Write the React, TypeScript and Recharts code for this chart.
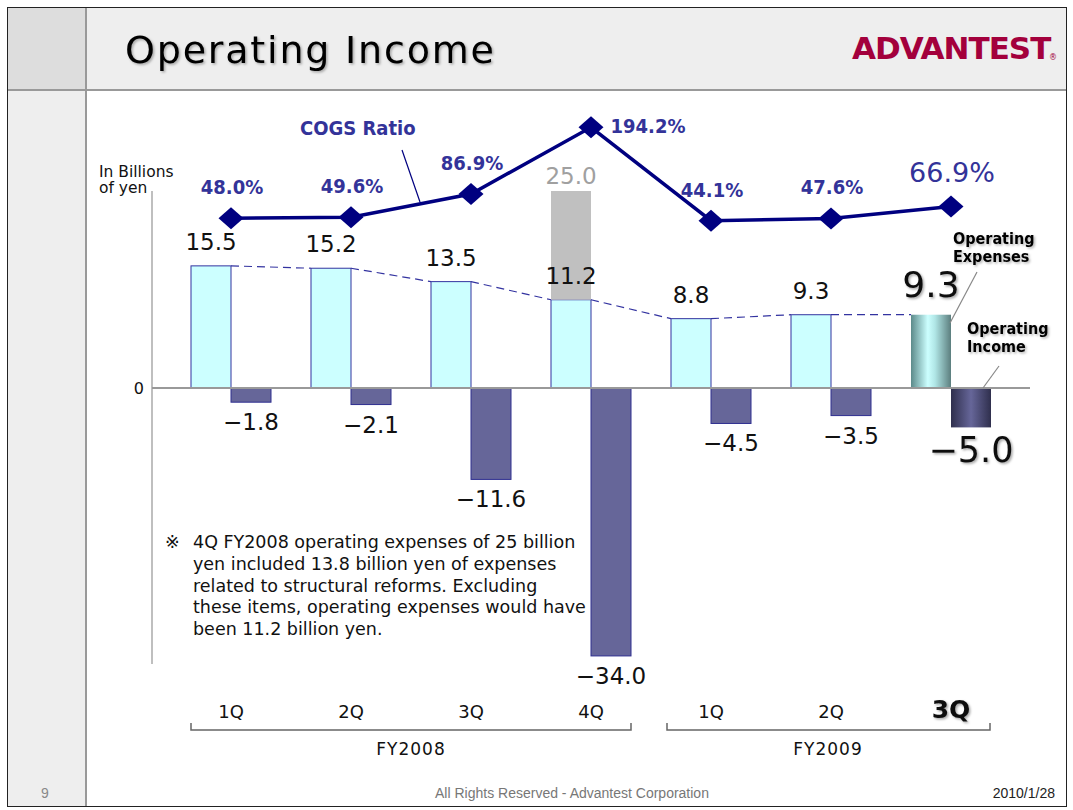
import React from 'react';
import { ComposedChart, Bar, Line, XAxis, YAxis, ReferenceLine } from 'recharts';

// ---------- data ----------
const quarters = ['1Q', '2Q', '3Q', '4Q', '1Q', '2Q', '3Q'];
const fiscalYears = ['FY2008', 'FY2008', 'FY2008', 'FY2008', 'FY2009', 'FY2009', 'FY2009'];
const operatingExpenses = [15.5, 15.2, 13.5, 11.2, 8.8, 9.3, 9.3];
const structuralReformExpenses = [0, 0, 0, 13.8, 0, 0, 0];
const operatingIncome = [-1.8, -2.1, -11.6, -34.0, -4.5, -3.5, -5.0];
const cogsRatio = [48.0, 49.6, 86.9, 194.2, 44.1, 47.6, 66.9];
const yTicks = [0];
const fiscalYearGroups = ['FY2008', 'FY2009'];
const footnoteLines = [
  '4Q FY2008 operating expenses of 25 billion',
  'yen included 13.8 billion yen of expenses',
  'related to structural reforms. Excluding',
  'these items, operating expenses would have',
  'been 11.2 billion yen.',
];

const data = quarters.map((q, i) => ({
  key: `${fiscalYears[i]} ${q}`,
  opex: operatingExpenses[i],
  reform: structuralReformExpenses[i],
  income: operatingIncome[i],
  cogs: cogsRatio[i],
}));

// ---------- style ----------
const LATEST = quarters.length - 1;
const CATEGORY_GAP = 20;
const SANS = "'DejaVu Sans', sans-serif";
const SANS_COND = "'DejaVu Sans Condensed', 'DejaVu Sans', sans-serif";
const ARIAL = "'Liberation Sans', Arial, sans-serif";
const fmt = (v: number) => (v < 0 ? '\u2212' : '') + Math.abs(v).toFixed(1);
const maxCogs = Math.max(...cogsRatio);

function OpexShape(props: any) {
  const { x, y, width, height, index: i } = props;
  const top = Math.min(y, y + height);
  const h = Math.abs(height);
  const hl = i === LATEST;
  let connector = null;
  if (i < operatingExpenses.length - 1 && operatingExpenses[i] !== 0) {
    const zero = top + h;
    const ppu = h / operatingExpenses[i];
    const nextTop = zero - operatingExpenses[i + 1] * ppu;
    const band = 2 * width + 2 * CATEGORY_GAP;
    connector = (
      <line x1={x + width} y1={top} x2={x + band} y2={nextTop}
        stroke="#3333a0" strokeWidth={1.2} strokeDasharray="8 5" />
    );
  }
  return (
    <g>
      <rect x={x} y={top} width={width} height={h}
        fill={hl ? 'url(#opexGrad)' : '#ccffff'}
        stroke={hl ? 'none' : '#3333a0'} strokeWidth={1} />
      {connector}
    </g>
  );
}

function IncomeShape(props: any) {
  const { x, y, width, height, index: i } = props;
  const top = Math.min(y, y + height);
  const bottom = Math.max(y, y + height);
  const h = bottom - top;
  const hl = i === LATEST;
  const zero = top;
  const ppu = h / Math.abs(operatingIncome[i]);
  const opexTop = zero - operatingExpenses[i] * ppu;
  const total = operatingExpenses[i] + structuralReformExpenses[i];
  const totalTop = zero - total * ppu;
  const opexCx = x - width / 2;
  const incCx = x + width / 2;
  return (
    <g>
      <rect x={x} y={top} width={width} height={h}
        fill={hl ? 'url(#incGrad)' : '#666699'}
        stroke={hl ? 'none' : '#2e2e90'} strokeWidth={1} />
      <text x={incCx} y={bottom + (hl ? 35 : 28)} textAnchor="middle"
        fontFamily={SANS} fontSize={hl ? 35 : 23} fill="#111"
        filter={hl ? 'url(#tshadow)' : undefined}>{fmt(operatingIncome[i])}</text>
      <text x={opexCx} y={opexTop - (hl ? 18 : 16)} textAnchor="middle"
        fontFamily={SANS} fontSize={hl ? 36 : 23} fill="#111"
        filter={hl ? 'url(#tshadow)' : undefined}>{fmt(operatingExpenses[i])}</text>
      {structuralReformExpenses[i] > 0 && (
        <text x={opexCx} y={totalTop - 7} textAnchor="middle"
          fontFamily={SANS} fontSize={23} fill="#a0a0a0">{fmt(total)}</text>
      )}
    </g>
  );
}

function CogsDot(props: any) {
  const { cx, cy, index: i } = props;
  const hl = i === LATEST;
  const isMax = cogsRatio[i] === maxCogs;
  return (
    <g key={`cogs-${i}`}>
      <path d={`M${cx} ${cy - 11}L${cx + 12.5} ${cy}L${cx} ${cy + 11}L${cx - 12.5} ${cy}Z`} fill="#000080" />
      <text x={isMax ? cx + 57 : cx + 1} y={isMax ? cy + 6 : cy - 24} textAnchor="middle"
        fontFamily={hl ? SANS : SANS_COND} fontSize={hl ? 27 : 20}
        fontWeight={hl ? 'normal' : 'bold'} fill="#333399">
        {cogsRatio[i].toFixed(1)}%
      </text>
    </g>
  );
}

function QuarterTick(props: any) {
  const { x, y, payload } = props;
  const i = props.index ?? payload?.index ?? 0;
  const hl = i === LATEST;
  return (
    <text x={x} y={y} dy={46} textAnchor="middle" fontFamily={SANS}
      fontSize={hl ? 25 : 18} fontWeight={hl ? 'bold' : 'normal'} fill="#111"
      filter={hl ? 'url(#tshadow)' : undefined}>
      {quarters[i]}
    </text>
  );
}

function Backdrop() {
  return (
    <svg width={1073} height={810} style={{ position: 'absolute', left: 0, top: 0 }}>
      <rect x={0} y={0} width={1073} height={810} fill="#ffffff" />
      <rect x={8} y={8} width={1058} height={82} fill="#eeeeee" />
      <rect x={8} y={8} width={78} height={82} fill="#dddddd" />
      <rect x={8} y={90} width={78} height={716} fill="#eeeeee" />
      <line x1={86} y1={8} x2={86} y2={806} stroke="#999" strokeWidth={2} />
      <line x1={8} y1={90} x2={1066} y2={90} stroke="#999" strokeWidth={2} />
      <rect x={7.5} y={7.5} width={1059} height={799} fill="none" stroke="#222" strokeWidth={1} />
      {/* value axis line (spans the bar range only) */}
      <line x1={152} y1={191} x2={152} y2={664} stroke="#aaa" strokeWidth={1.5} />
    </svg>
  );
}

function Overlay() {
  return (
    <svg width={1073} height={810} style={{ position: 'absolute', left: 0, top: 0, pointerEvents: 'none' }}>
      <defs>
        <filter id="oshadow" x="-5%" y="-20%" width="110%" height="150%">
          <feDropShadow dx="1.5" dy="1.5" stdDeviation="0.8" floodColor="#000" floodOpacity="0.3" />
        </filter>
      </defs>
      <text x={125} y={63} fontFamily={SANS} fontSize={38} letterSpacing={1.8} fill="#000" filter="url(#oshadow)">
        Operating Income
      </text>
      <text x={852} y={59} fontFamily={SANS} fontSize={31} fontWeight="bold" letterSpacing={-1} fill="#a3003c">
        ADVANTEST
      </text>
      <text x={1049} y={60} fontFamily={SANS} fontSize={8} fill="#a3003c">®</text>

      <text x={99} y={177} fontFamily={SANS} fontSize={15.5} fill="#111">In Billions</text>
      <text x={99} y={193} fontFamily={SANS} fontSize={15.5} fill="#111">of yen</text>

      <text x={300} y={135} fontFamily={SANS_COND} fontSize={20} fontWeight="bold" fill="#333399">COGS Ratio</text>
      <line x1={402} y1={150} x2={420} y2={202} stroke="#000080" strokeWidth={1.2} />

      <g fontFamily={SANS_COND} fontSize={16} fontWeight="bold" fill="#000" filter="url(#oshadow)">
        <text x={953} y={244}>Operating</text>
        <text x={953} y={262}>Expenses</text>
        <text x={967} y={334}>Operating</text>
        <text x={967} y={352}>Income</text>
      </g>
      <line x1={977} y1={272} x2={950} y2={323} stroke="#888" strokeWidth={1.2} />
      <line x1={999} y1={366} x2={983} y2={388} stroke="#888" strokeWidth={1.2} />

      <g fontFamily={SANS} fontSize={17.5} fill="#111">
        <text x={165} y={548}>※</text>
        {footnoteLines.map((t, i) => (
          <text key={i} x={193} y={548 + i * 21.8}>{t}</text>
        ))}
      </g>

      <path d="M191 723V730H631V723" fill="none" stroke="#666" strokeWidth={1.5} />
      <path d="M667 723V730H990V723" fill="none" stroke="#666" strokeWidth={1.5} />
      <text x={411} y={755} textAnchor="middle" fontFamily={SANS} fontSize={17} letterSpacing={1} fill="#111">{fiscalYearGroups[0]}</text>
      <text x={828} y={755} textAnchor="middle" fontFamily={SANS} fontSize={17} letterSpacing={1} fill="#111">{fiscalYearGroups[1]}</text>

      <text x={45} y={798} textAnchor="middle" fontFamily={ARIAL} fontSize={14} fill="#888">9</text>
      <text x={572} y={798} textAnchor="middle" fontFamily={ARIAL} fontSize={14} fill="#777">All Rights Reserved - Advantest Corporation</text>
      <text x={1055} y={798} textAnchor="end" fontFamily={ARIAL} fontSize={14} fill="#222">2010/1/28</text>
    </svg>
  );
}

export default function App() {
  return (
    <div style={{ position: 'absolute', left: 0, top: 0, width: 1073, height: 810, overflow: 'hidden' }}>
      <Backdrop />
      <div style={{ position: 'absolute', left: 0, top: 0 }}>
        <ComposedChart width={1073} height={810} data={data}
          margin={{ top: 110, right: 43, bottom: 86.2, left: 122 }}
          barCategoryGap={CATEGORY_GAP} barGap={0}>
          <defs>
            <linearGradient id="opexGrad" x1="0" y1="0" x2="1" y2="0">
              <stop offset="0" stopColor="#5b8a8a" />
              <stop offset="0.42" stopColor="#ccffff" />
              <stop offset="0.6" stopColor="#b0e6e6" />
              <stop offset="1" stopColor="#5c7e7e" />
            </linearGradient>
            <linearGradient id="incGrad" x1="0" y1="0" x2="1" y2="0">
              <stop offset="0" stopColor="#2f2f4d" />
              <stop offset="0.5" stopColor="#666699" />
              <stop offset="1" stopColor="#2f2f4d" />
            </linearGradient>
            <filter id="tshadow" x="-10%" y="-20%" width="130%" height="150%">
              <feDropShadow dx="1.5" dy="1.5" stdDeviation="0.8" floodColor="#000" floodOpacity="0.35" />
            </filter>
          </defs>
          <XAxis dataKey="key" type="category" padding={{ left: 19, right: 19 }}
            axisLine={false} tickLine={false} height={60} interval={0}
            tick={(p: any) => <QuarterTick {...p} />} />
          <YAxis yAxisId="left" width={30} domain={[-35, 35.28]} ticks={yTicks}
            tickLine={false} axisLine={false}
            tick={{ fontSize: 16, fill: '#111', fontFamily: SANS }} />
          <YAxis yAxisId="right" orientation="right" hide domain={[-668.3, 222.0]} />
          <Bar yAxisId="left" dataKey="opex" stackId="a" fill="#ccffff" stroke="#3333a0"
            shape={(p: any) => <OpexShape {...p} />} isAnimationActive={false} />
          <Bar yAxisId="left" dataKey="reform" stackId="a" fill="#c0c0c0" isAnimationActive={false} />
          <Bar yAxisId="left" dataKey="income" fill="#666699" stroke="#2e2e90"
            shape={(p: any) => <IncomeShape {...p} />} isAnimationActive={false} />
          <ReferenceLine yAxisId="left" y={0} stroke="#999" strokeWidth={2} />
          <Line yAxisId="right" dataKey="cogs" type="linear" stroke="#000080" strokeWidth={3.5}
            dot={(p: any) => <CogsDot key={`c${p.index}`} {...p} />} activeDot={false}
            isAnimationActive={false} />
        </ComposedChart>
      </div>
      <Overlay />
    </div>
  );
}
